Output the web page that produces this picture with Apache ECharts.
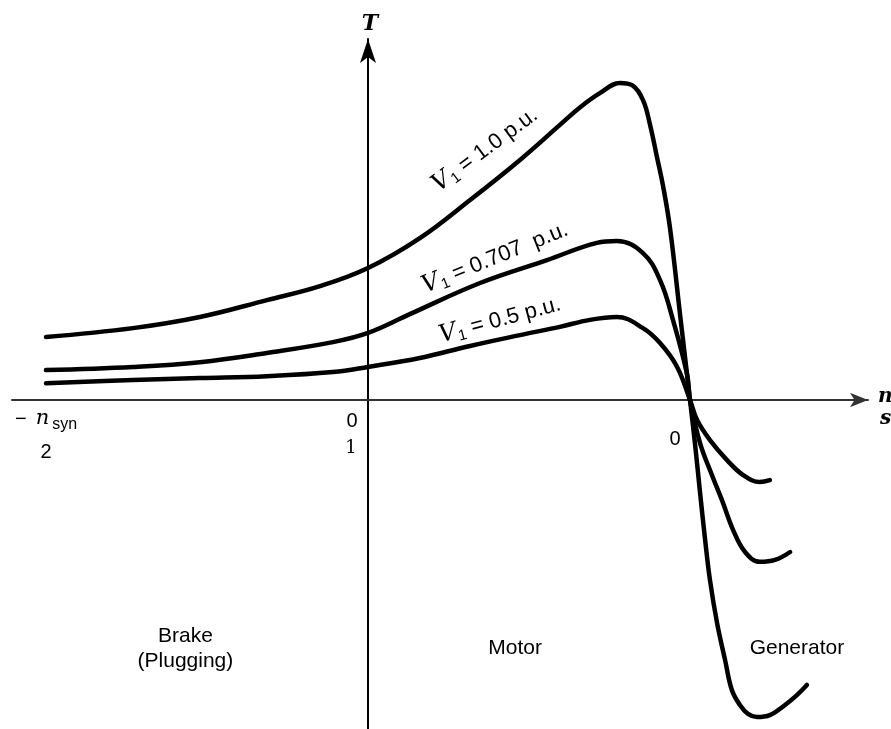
<!DOCTYPE html>
<html><head><meta charset="utf-8">
<script src="https://cdn.jsdelivr.net/npm/echarts@6/dist/echarts.min.js"></script>
<style>html,body{margin:0;padding:0;background:#fff}#c{width:891px;height:729px}</style>
</head><body><div id="c"></div>
<script>
// speed in per-unit of n_syn (slip s = 1 - n), torque in per-unit of peak torque at V1 = 1.0
const speedV100 = [-1.0, -0.73, -0.522, -0.314, -0.149, 0, 0.161, 0.317, 0.472, 0.596, 0.658, 0.720, 0.783, 0.82, 0.854, 0.876, 0.898, 0.916, 0.938, 0.969, 1.0, 1.016, 1.031, 1.047, 1.062, 1.084, 1.109, 1.130, 1.155, 1.180, 1.208, 1.248, 1.295, 1.332, 1.363];
const torqueV100 = [0.198, 0.226, 0.261, 0.314, 0.358, 0.415, 0.509, 0.629, 0.755, 0.865, 0.920, 0.965, 0.997, 0.99, 0.943, 0.865, 0.761, 0.675, 0.540, 0.270, 0, -0.142, -0.289, -0.440, -0.566, -0.701, -0.818, -0.912, -0.959, -0.987, -0.997, -0.991, -0.959, -0.928, -0.896];
const speedV0707 = [-1.0, -0.73, -0.522, -0.314, -0.109, 0, 0.130, 0.348, 0.556, 0.711, 0.773, 0.854, 0.907, 0.947, 0.991, 1.0, 1.031, 1.068, 1.099, 1.134, 1.171, 1.217, 1.264, 1.311];
const torqueV0707 = [0.094, 0.104, 0.119, 0.148, 0.182, 0.211, 0.270, 0.368, 0.440, 0.494, 0.500, 0.462, 0.377, 0.252, 0.080, 0, -0.135, -0.236, -0.314, -0.409, -0.478, -0.509, -0.503, -0.478];
const speedV05 = [-1.0, -0.73, -0.522, -0.314, -0.109, 0, 0.161, 0.317, 0.472, 0.596, 0.689, 0.773, 0.854, 0.907, 0.960, 1.0, 1.022, 1.062, 1.115, 1.165, 1.217, 1.248];
const torqueV05 = [0.053, 0.063, 0.069, 0.075, 0.088, 0.104, 0.132, 0.170, 0.204, 0.230, 0.252, 0.261, 0.226, 0.179, 0.104, 0, -0.063, -0.126, -0.189, -0.236, -0.258, -0.252];

const tickSpeeds = [-1, 0, 1];
const slipTickLabels = ['2', '1', '0'];
const speedTickLabels = ['n', '0', ''];
const regionLabels = ['Brake\n(Plugging)', 'Motor', 'Generator'];
const regionSpeeds = [-0.567, 0.457, 1.332];
const regionTorques = [-0.782, -0.78, -0.78];

const zip = (a, b) => a.map((v, i) => [v, b[i]]);
const chart = echarts.init(document.getElementById('c'), null, {renderer: 'canvas'});
const lineSeries = (name, xs, ys) => ({
  name, type: 'line', data: zip(xs, ys), showSymbol: false, smooth: 0.4,
  lineStyle: {width: 4.5, color: '#000', cap: 'round', join: 'round'}, silent: true, animation: false
});
const option = {
  animation: false,
  backgroundColor: '#fff',
  grid: {left: 12, right: 23, top: 39, bottom: 0, containLabel: false},
  xAxis: {
    type: 'value', min: -1.1056, max: 1.5528,
    axisLine: {onZero: true, lineStyle: {color: '#333', width: 2}, symbol: ['none', 'arrow'], symbolSize: [11, 18]},
    axisTick: {show: false}, axisLabel: {show: false}, splitLine: {show: false}
  },
  yAxis: {
    type: 'value', min: -1.0346, max: 1.1352,
    axisLine: {onZero: true, lineStyle: {color: '#000', width: 2}, symbol: ['none', 'arrow'], symbolSize: [12, 24]},
    axisTick: {show: false}, axisLabel: {show: false}, splitLine: {show: false}
  },
  series: [
    lineSeries('V1 = 1.0 p.u.', speedV100, torqueV100),
    lineSeries('V1 = 0.707 p.u.', speedV0707, torqueV0707),
    lineSeries('V1 = 0.5 p.u.', speedV05, torqueV05)
  ]
};
chart.setOption(option);

const px = (x, y) => chart.convertToPixel({gridIndex: 0}, [x, y]);
const sans = '"Liberation Sans", Arial, sans-serif';
const serif = '"DejaVu Serif", "Liberation Serif", serif';
const g = [];
// axis titles
g.push({type: 'text', x: 370, y: 24, style: {text: 'T', fontFamily: serif, fontStyle: 'italic', fontWeight: 'bold', fontSize: 22, fill: '#000', align: 'center', verticalAlign: 'middle'}});
g.push({type: 'text', x: 878, y: 397, style: {text: 'n', fontFamily: serif, fontStyle: 'italic', fontWeight: 'bold', fontSize: 20, fill: '#000', align: 'left', verticalAlign: 'middle'}});
g.push({type: 'text', x: 880, y: 419, style: {text: 's', fontFamily: serif, fontStyle: 'italic', fontWeight: 'bold', fontSize: 20, fill: '#000', align: 'left', verticalAlign: 'middle'}});
// tick labels
const p0 = px(tickSpeeds[0], 0), p1 = px(tickSpeeds[1], 0), p2 = px(tickSpeeds[2], 0);
g.push({type: 'text', x: p0[0], y: p0[1] + 19, style: {text: '{m|−}{n|' + speedTickLabels[0] + '}{s|syn}', rich: {m: {fontSize: 20, fontFamily: sans, padding:[0,9,0,0]}, n: {fontSize: 21, fontFamily: serif, fontStyle: 'italic'}, s: {fontSize: 16, fontFamily: sans, padding: [12, 0, 0, 3]}}, fill: '#000', align: 'center', verticalAlign: 'middle'}});
g.push({type: 'text', x: p0[0], y: p0[1] + 52, style: {text: slipTickLabels[0], fontFamily: sans, fontSize: 20, fill: '#000', align: 'center', verticalAlign: 'middle'}});
g.push({type: 'text', x: p1[0] - 16, y: p1[1] + 21, style: {text: speedTickLabels[1], fontFamily: sans, fontSize: 20, fill: '#000', align: 'center', verticalAlign: 'middle'}});
g.push({type: 'text', x: p1[0] - 17, y: p1[1] + 48, style: {text: slipTickLabels[1], fontFamily: serif, fontSize: 18, fill: '#000', align: 'center', verticalAlign: 'middle'}});
g.push({type: 'text', x: p2[0] - 15, y: p2[1] + 39, style: {text: slipTickLabels[2], fontFamily: sans, fontSize: 20, fill: '#000', align: 'center', verticalAlign: 'middle'}});
// region labels
regionLabels.forEach((t, i) => {
  const p = px(regionSpeeds[i], regionTorques[i]);
  g.push({type: 'text', x: p[0], y: p[1], style: {text: t, fontFamily: sans, fontSize: 21, lineHeight: 25, fill: '#000', align: 'center', verticalAlign: 'middle'}});
});
// curve labels
const curveLab = (x, y, deg, val) => ({
  type: 'text', x, y, rotation: deg * Math.PI / 180,
  style: {text: '{v|V}{s|1}{t| = ' + val + '}', rich: {
    v: {fontFamily: serif, fontStyle: 'italic', fontSize: 24},
    s: {fontFamily: sans, fontSize: 15, padding: [11, 0, 0, 1]},
    t: {fontFamily: sans, fontSize: 22}}, fill: '#000', align: 'center', verticalAlign: 'middle'}
});
g.push(curveLab(485, 150, 36.5, '1.0 p.u.'));
g.push(curveLab(495, 258, 22, '0.707  p.u.'));
g.push(curveLab(500, 320, 15, '0.5 p.u.'));
chart.setOption({graphic: g});
</script></body></html>
